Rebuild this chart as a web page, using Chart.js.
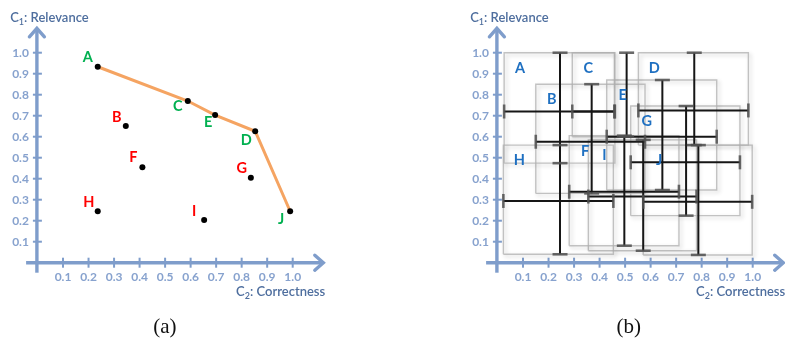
<!DOCTYPE html>
<html><head><meta charset="utf-8">
<script src="https://cdn.jsdelivr.net/npm/chart.js@4"></script>
<style>
html,body{margin:0;padding:0;background:#fff;}
#wrap{position:relative;width:785px;height:344px;overflow:hidden;background:#fff;}
canvas{position:absolute;left:0;top:0;}
</style></head><body>
<div id="wrap"><canvas id="ca" width="785" height="344"></canvas><canvas id="cb" width="785" height="344"></canvas></div>
<script>
// ---------- DATA ----------
const letters = ['A','B','C','D','E','F','G','H','I','J'];
// panel (a): point estimates
const correctnessA = [0.236,0.346,0.589,0.853,0.696,0.411,0.836,0.236,0.653,0.990];
const relevanceA   = [0.933,0.651,0.770,0.626,0.703,0.454,0.405,0.245,0.203,0.245];
const paretoFront  = ['A','C','E','D','J'];
// panel (b): ranges and means
const correctMin  = [0.026,0.150,0.293,0.552,0.428,0.281,0.522,0.023,0.356,0.571];
const correctMax  = [0.460,0.578,0.458,0.983,0.859,0.711,0.950,0.454,0.780,0.998];
const relevMin    = [0.474,0.330,0.600,0.560,0.346,0.081,0.224,0.040,0.057,0.037];
const relevMax    = [1.000,0.850,1.000,1.000,0.870,0.605,0.746,0.560,0.585,0.560];
const meanRelev   = [0.720,0.576,0.720,0.725,0.600,0.338,0.478,0.294,0.315,0.290];
const meanCorrect = [0.245,0.369,0.506,0.771,0.646,0.497,0.739,0.245,0.571,0.787];
// ticks
const tickValues = [0.1,0.2,0.3,0.4,0.5,0.6,0.7,0.8,0.9,1.0];
const tickLabels = ['0.1','0.2','0.3','0.4','0.5','0.6','0.7','0.8','0.9','1.0'];

// ---------- STYLE ----------
const S = {
  axis:'#7F9DCB', tickText:'#87A2CE', title:'#4E6E9E',
  green:'#00B050', red:'#FF0000', blue:'#1F70C1', orange:'#F5A462',
  font:'Lato, "Open Sans", sans-serif'
};
const greenSet = new Set(paretoFront);
// label offsets (px) for panel (a) letters relative to points
const labelDX = [-10,-9,-10,-9,-7,-9,-9,-9,-10,-9];
const labelDY = [-9,-9,5,9,7,-10,-9,-9,-9,8];

function drawTitle(ctx, x, y, sub, rest, align){
  ctx.save();
  ctx.fillStyle = S.title; ctx.textBaseline='middle';
  const fMain = '600 13px '+S.font, fSub = '600 9px '+S.font;
  ctx.font=fMain; const wC=ctx.measureText('C').width; const wR=ctx.measureText(rest).width;
  ctx.font=fSub; const wS=ctx.measureText(sub).width;
  const total=wC+wS+wR;
  let left = align==='right' ? x-total : x;
  ctx.textAlign='left';
  ctx.font=fMain; ctx.fillText('C',left,y);
  ctx.font=fSub; ctx.fillText(sub,left+wC,y+4);
  ctx.font=fMain; ctx.fillText(rest,left+wC+wS,y);
  ctx.restore();
}

function axesPlugin(caption){
  return {
    id:'axes'+caption,
    beforeDatasetsDraw(chart){
      const ctx=chart.ctx, xs=chart.scales.x, ys=chart.scales.y;
      const x0=xs.getPixelForValue(0)-0.6, y0=ys.getPixelForValue(0);
      const x1=xs.getPixelForValue(1), y1=ys.getPixelForValue(1);
      ctx.save();
      ctx.strokeStyle=S.axis; ctx.lineWidth=3.4; ctx.lineCap='butt'; ctx.lineJoin='miter';
      const yTip=y1-24.4, xTip=x1+30.6;
      ctx.beginPath(); ctx.moveTo(x0,y0+10); ctx.lineTo(x0,yTip+1); ctx.stroke();
      ctx.beginPath(); ctx.moveTo(x0-10.8,y0); ctx.lineTo(xTip-1,y0); ctx.stroke();
      ctx.lineCap='round';
      ctx.beginPath(); ctx.moveTo(x0-7.5,yTip+8.5); ctx.lineTo(x0,yTip); ctx.lineTo(x0+7.5,yTip+8.5); ctx.stroke();
      ctx.beginPath(); ctx.moveTo(xTip-8.5,y0-7.5); ctx.lineTo(xTip,y0); ctx.lineTo(xTip-8.5,y0+7.5); ctx.stroke();
      ctx.lineWidth=2; ctx.lineCap='butt';
      ctx.fillStyle=S.tickText; ctx.font='bold 12px '+S.font;
      tickValues.forEach((v,i)=>{
        const py=ys.getPixelForValue(v), px=xs.getPixelForValue(v);
        ctx.beginPath(); ctx.moveTo(x0-4,py); ctx.lineTo(x0+5,py); ctx.stroke();
        ctx.beginPath(); ctx.moveTo(px,y0-5); ctx.lineTo(px,y0+5); ctx.stroke();
        ctx.textAlign='right'; ctx.textBaseline='middle'; ctx.fillText(tickLabels[i],x0-8,py+0.5);
        ctx.textAlign='center'; ctx.fillText(tickLabels[i],px,y0+14.5);
      });
      ctx.restore();
      drawTitle(ctx, x0-26.7, 18, '1', ': Relevance', 'left');
      drawTitle(ctx, x1+32.5, y0+29, '2', ': Correctness', 'right');
      ctx.save();
      ctx.fillStyle='#111'; ctx.font='21px "Liberation Serif", serif';
      ctx.textAlign='center'; ctx.textBaseline='middle';
      ctx.fillText(caption,(x0+x1)/2+(caption==='(a)'?0:4),327);
      ctx.restore();
    }
  };
}

// ---------- PANEL (a) ----------
const ptsA = letters.map((l,i)=>({x:correctnessA[i], y:relevanceA[i]}));
const frontA = paretoFront.map(l=>ptsA[letters.indexOf(l)]);
const labelsPluginA = {
  id:'labelsA',
  afterDatasetsDraw(chart){
    const ctx=chart.ctx, xs=chart.scales.x, ys=chart.scales.y;
    ctx.save(); ctx.font='bold 14.5px '+S.font; ctx.textAlign='center'; ctx.textBaseline='middle';
    letters.forEach((l,i)=>{
      ctx.fillStyle = greenSet.has(l)? S.green : S.red;
      ctx.fillText(l, xs.getPixelForValue(correctnessA[i])+labelDX[i], ys.getPixelForValue(relevanceA[i])+labelDY[i]);
    });
    ctx.restore();
  }
};
new Chart(document.getElementById('ca'),{
  type:'scatter',
  data:{datasets:[
    {data:frontA, showLine:true, borderColor:S.orange, borderWidth:3, pointRadius:0, clip:false, order:2, tension:0},
    {data:ptsA, pointRadius:3, pointBackgroundColor:'#000', pointBorderWidth:0, clip:false, order:1}
  ]},
  options:{
    responsive:false, animation:false, devicePixelRatio:1,
    layout:{padding:{left:37.5,right:785-292.7,top:52.7,bottom:344-262.7}},
    plugins:{legend:{display:false},tooltip:{enabled:false}},
    scales:{x:{type:'linear',min:0,max:1,display:false},y:{type:'linear',min:0,max:1,display:false}}
  },
  plugins:[axesPlugin('(a)'),labelsPluginA]
});

// ---------- PANEL (b) ----------
const dsB=[];
letters.forEach((l,i)=>{
  dsB.push({kind:'box', data:[
    {x:correctMin[i],y:relevMin[i]},{x:correctMax[i],y:relevMin[i]},
    {x:correctMax[i],y:relevMax[i]},{x:correctMin[i],y:relevMax[i]},{x:correctMin[i],y:relevMin[i]}],
    showLine:true, borderColor:'rgba(175,175,175,0.75)', borderWidth:1.4, pointRadius:0, clip:false, order:3, tension:0, borderJoinStyle:'miter'});
});
letters.forEach((l,i)=>{
  dsB.push({kind:'bar', data:[{x:correctMin[i],y:meanRelev[i]},{x:correctMax[i],y:meanRelev[i]}],
    showLine:true, borderColor:'#161616', borderWidth:2, pointRadius:0, clip:false, order:2});
  dsB.push({kind:'bar', data:[{x:meanCorrect[i],y:relevMin[i]},{x:meanCorrect[i],y:relevMax[i]}],
    showLine:true, borderColor:'#161616', borderWidth:2, pointRadius:0, clip:false, order:2});
});
const shadowPlugin = {
  id:'shadow',
  beforeDatasetDraw(chart,args){
    const ds=chart.data.datasets[args.index];
    if(ds.kind==='box'){ const c=chart.ctx; c.save(); c.shadowColor='rgba(0,0,0,0.25)'; c.shadowBlur=4; c.shadowOffsetX=2; c.shadowOffsetY=2; }
  },
  afterDatasetDraw(chart,args){
    const ds=chart.data.datasets[args.index];
    if(ds.kind==='box'){ chart.ctx.restore(); }
  }
};
const capsPlugin = {
  id:'caps',
  afterDatasetsDraw(chart){
    const ctx=chart.ctx, xs=chart.scales.x, ys=chart.scales.y;
    ctx.save(); ctx.strokeStyle='rgba(80,80,80,0.85)'; ctx.lineWidth=2.6;
    letters.forEach((l,i)=>{
      const yh=ys.getPixelForValue(meanRelev[i]);
      [correctMin[i],correctMax[i]].forEach(v=>{const px=xs.getPixelForValue(v);
        ctx.beginPath(); ctx.moveTo(px,yh-7); ctx.lineTo(px,yh+7); ctx.stroke();});
      const xv=xs.getPixelForValue(meanCorrect[i]);
      [relevMin[i],relevMax[i]].forEach(v=>{const py=ys.getPixelForValue(v);
        ctx.beginPath(); ctx.moveTo(xv-7.5,py); ctx.lineTo(xv+7.5,py); ctx.stroke();});
    });
    ctx.fillStyle=S.blue; ctx.font='bold 14.5px '+S.font; ctx.textAlign='center'; ctx.textBaseline='middle';
    letters.forEach((l,i)=>{
      ctx.fillText(l, xs.getPixelForValue(correctMin[i])+16, ys.getPixelForValue(relevMax[i])+15.5);
    });
    ctx.restore();
  }
};
new Chart(document.getElementById('cb'),{
  type:'scatter',
  data:{datasets:dsB},
  options:{
    responsive:false, animation:false, devicePixelRatio:1,
    layout:{padding:{left:497.5,right:785-752.7,top:52.7,bottom:344-262.7}},
    plugins:{legend:{display:false},tooltip:{enabled:false}},
    scales:{x:{type:'linear',min:0,max:1,display:false},y:{type:'linear',min:0,max:1,display:false}}
  },
  plugins:[axesPlugin('(b)'),shadowPlugin,capsPlugin]
});
</script>
</body></html>
